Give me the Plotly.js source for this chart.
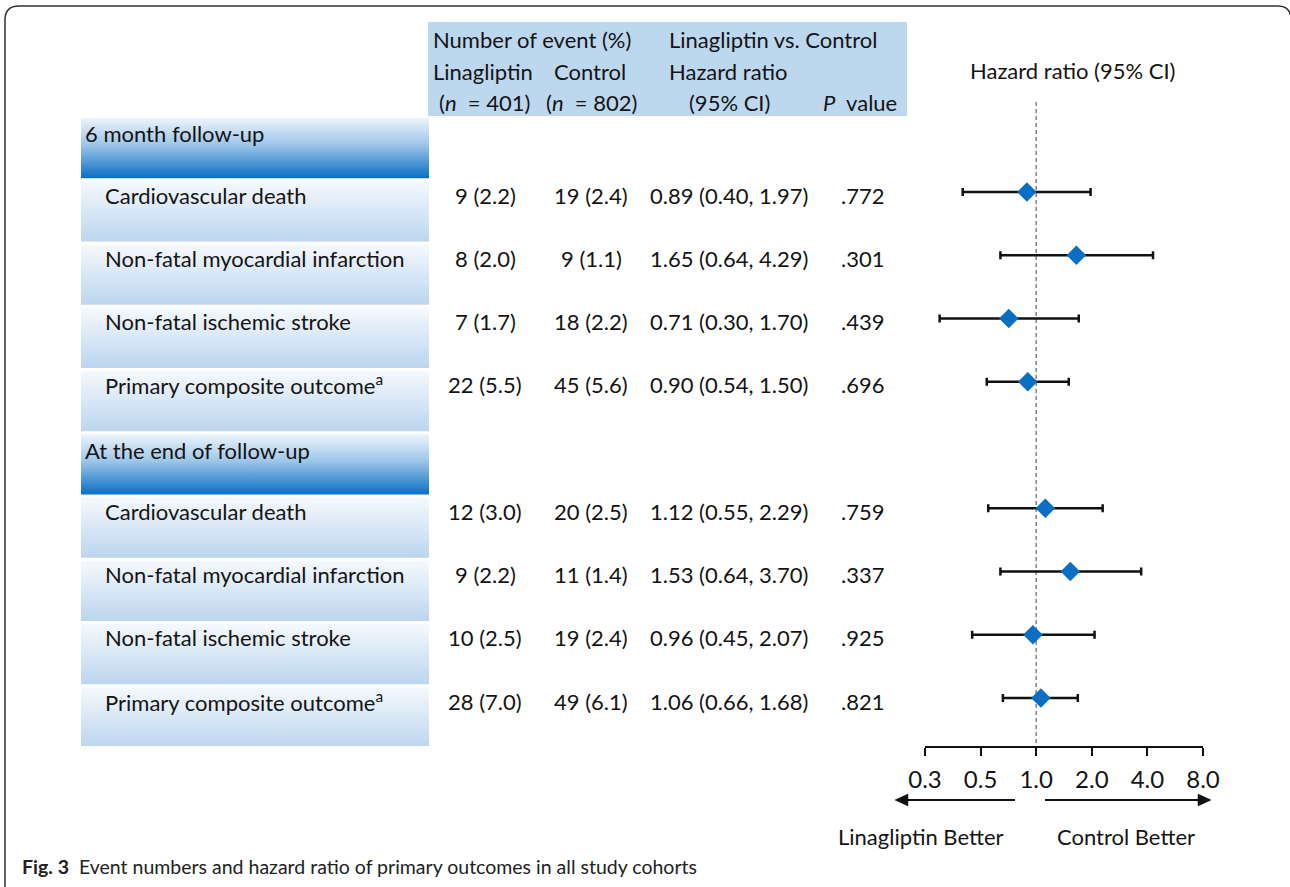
<!DOCTYPE html>
<html>
<head>
<meta charset="utf-8">
<script src="https://cdn.plot.ly/plotly-3.0.1.min.js"></script>
<style>html,body{margin:0;padding:0;background:#fff;}</style>
</head>
<body>
<div id="chart" style="width:1290px;height:887px;"></div>
<script>
// ---------------- data ----------------
const rowLabels = [
  "6 month follow-up",
  "Cardiovascular death",
  "Non-fatal myocardial infarction",
  "Non-fatal ischemic stroke",
  "Primary composite outcome<sup>a</sup>",
  "At the end of follow-up",
  "Cardiovascular death",
  "Non-fatal myocardial infarction",
  "Non-fatal ischemic stroke",
  "Primary composite outcome<sup>a</sup>"
];
const rowIsHeader = [true, false, false, false, false, true, false, false, false, false];
const linaEvents = ["", "9 (2.2)", "8 (2.0)", "7 (1.7)", "22 (5.5)", "", "12 (3.0)", "9 (2.2)", "10 (2.5)", "28 (7.0)"];
const ctrlEvents = ["", "19 (2.4)", "9 (1.1)", "18 (2.2)", "45 (5.6)", "", "20 (2.5)", "11 (1.4)", "19 (2.4)", "49 (6.1)"];
const hazardRatio = [null, 0.89, 1.65, 0.71, 0.90, null, 1.12, 1.53, 0.96, 1.06];
const ciLow  = [null, 0.40, 0.64, 0.30, 0.54, null, 0.55, 0.64, 0.45, 0.66];
const ciHigh = [null, 1.97, 4.29, 1.70, 1.50, null, 2.29, 3.70, 2.07, 1.68];
const pValues = ["", ".772", ".301", ".439", ".696", "", ".759", ".337", ".925", ".821"];
const hrTickVals = [0.25, 0.5, 1, 2, 4, 8];
const hrTickText = ["0.3", "0.5", "1.0", "2.0", "4.0", "8.0"];
const referenceHR = 1;

// ---------------- layout helpers ----------------
const W = 1290, H = 887;
const px = x => x / W;
const py = y => 1 - y / H;
const FONT = "Lato, 'Open Sans', sans-serif";
const TXT = "#141414";
const FS = 22;
const rowTop = 128.8, rowPitch = 63.25, plotBottom = 746;
const yRange = [(plotBottom - rowTop) / rowPitch, -rowTop / rowPitch];

const rowIdx = rowLabels.map((_, i) => i);
const traces = [];

// table cell backgrounds (gradient fills)
const rowScale = [[0, "#f5f9fd"], [1, "#bcd5ee"]];
const hdrScale = [[0, "#edf4fb"], [0.45, "#9cc5e9"], [1, "#0a6fc2"]];
rowIdx.forEach(i => {
  const t = i - 0.17, b = i + 0.78;
  traces.push({
    type: "scatter", mode: "lines", xaxis: "x2", yaxis: "y",
    x: [81, 429, 429, 81, 81], y: [t, t, b, b, t],
    fill: "toself", line: {width: 0, color: "rgba(0,0,0,0)"},
    fillgradient: {type: "vertical", colorscale: rowIsHeader[i] ? hdrScale : rowScale, start: t, stop: b},
    hoverinfo: "skip", showlegend: false
  });
});

// reference line at HR = 1
traces.push({
  type: "scatter", mode: "lines", xaxis: "x", yaxis: "y",
  x: [referenceHR, referenceHR], y: [(102 - rowTop) / rowPitch, yRange[0]],
  line: {color: "#8a8a8a", width: 1.6, dash: "4px,3px"},
  hoverinfo: "skip", showlegend: false, cliponaxis: false
});

// forest points
const fx = [], fy = [], ePlus = [], eMinus = [];
rowIdx.forEach(i => {
  if (hazardRatio[i] !== null) {
    fx.push(hazardRatio[i]); fy.push(i);
    ePlus.push(ciHigh[i] - hazardRatio[i]);
    eMinus.push(hazardRatio[i] - ciLow[i]);
  }
});
traces.push({
  type: "scatter", mode: "markers", xaxis: "x", yaxis: "y",
  x: fx, y: fy,
  marker: {symbol: "diamond", size: 15, color: "#0a6fc2", line: {width: 0}},
  error_x: {type: "data", symmetric: false, array: ePlus, arrayminus: eMinus,
            color: "#111", thickness: 2.5, width: 4},
  hoverinfo: "skip", showlegend: false, cliponaxis: false
});

// ---------------- annotations ----------------
const ann = [];
const fnt = (s, c) => ({family: FONT, size: s || FS, color: c || TXT});
function pTxt(text, x, y, anchor, size) {
  ann.push({text, xref: "paper", yref: "paper", x: px(x), y: py(y),
            xanchor: anchor || "left", yanchor: "middle", showarrow: false, font: fnt(size)});
}
// header block
pTxt("Number of event (%)", 431, 40);
pTxt("Linagliptin vs. Control", 667, 40);
pTxt("Linagliptin", 431, 72);
pTxt("Control", 552, 72);
pTxt("Hazard ratio", 667, 72);
pTxt("(<i>n</i>  = 401)", 437, 102);
pTxt("(<i>n</i>  = 802)", 544, 102);
pTxt("(95% CI)", 687, 102);
pTxt("<i>P</i>  value", 821, 102);
pTxt("Hazard ratio (95% CI)", 1072, 70, "center");
pTxt("Linagliptin Better", 921, 836, "center");
pTxt("Control Better", 1126, 836, "center");

// table rows
rowIdx.forEach(i => {
  const base = {xref: "paper", yref: "y", y: i, yanchor: "middle", showarrow: false, font: fnt()};
  if (rowIsHeader[i]) {
    ann.push(Object.assign({}, base, {text: rowLabels[i], x: px(83), xanchor: "left", yshift: -5}));
  } else {
    ann.push(Object.assign({}, base, {text: rowLabels[i], x: px(103), xanchor: "left", yshift: -3}));
    ann.push(Object.assign({}, base, {text: linaEvents[i], x: px(485), xanchor: "center", yshift: -3}));
    ann.push(Object.assign({}, base, {text: ctrlEvents[i], x: px(591), xanchor: "center", yshift: -3}));
    const hrText = hazardRatio[i].toFixed(2) + " (" + ciLow[i].toFixed(2) + ", " + ciHigh[i].toFixed(2) + ")";
    ann.push(Object.assign({}, base, {text: hrText, x: px(729), xanchor: "center", yshift: -3}));
    ann.push(Object.assign({}, base, {text: pValues[i], x: px(862), xanchor: "center", yshift: -3}));
  }
});

// caption
ann.push({text: "<b>Fig. 3</b>  Event numbers and hazard ratio of primary outcomes in all study cohorts",
          xref: "paper", yref: "paper", x: px(20), y: py(866), xanchor: "left", yanchor: "middle",
          showarrow: false, font: {family: FONT, size: 19.5, color: "#222"}});

// ---------------- shapes ----------------
const arrowY = 800;
const shapes = [
  {type: "rect", xref: "paper", yref: "paper", x0: px(428), x1: px(907), y0: py(22), y1: py(116),
   fillcolor: "#bdd7ee", line: {width: 0}, layer: "below"},
  {type: "path", xref: "paper", yref: "paper",
   path: `M ${px(5)},${py(895)} L ${px(5)},${py(20)} Q ${px(5)},${py(6)} ${px(19)},${py(6)} L ${px(1278)},${py(6)} Q ${px(1290)},${py(6)} ${px(1291)},${py(18)} L ${px(1291)},${py(895)}`,
   line: {color: "#333", width: 1.5}, layer: "above"},
  // left arrow
  {type: "line", xref: "paper", yref: "paper", x0: px(1015), x1: px(905), y0: py(arrowY), y1: py(arrowY),
   line: {color: "#111", width: 2}},
  {type: "path", xref: "paper", yref: "paper",
   path: `M ${px(895)},${py(arrowY)} L ${px(908)},${py(arrowY - 6)} L ${px(908)},${py(arrowY + 6)} Z`,
   fillcolor: "#111", line: {color: "#111", width: 0.5}},
  // right arrow
  {type: "line", xref: "paper", yref: "paper", x0: px(1045), x1: px(1200), y0: py(arrowY), y1: py(arrowY),
   line: {color: "#111", width: 2}},
  {type: "path", xref: "paper", yref: "paper",
   path: `M ${px(1211)},${py(arrowY)} L ${px(1198)},${py(arrowY - 6)} L ${px(1198)},${py(arrowY + 6)} Z`,
   fillcolor: "#111", line: {color: "#111", width: 0.5}}
];

const layout = {
  width: W, height: H,
  margin: {l: 0, r: 0, t: 0, b: 0},
  paper_bgcolor: "#fff", plot_bgcolor: "rgba(0,0,0,0)",
  showlegend: false,
  xaxis: {
    type: "log", domain: [px(925), px(1203)], range: [Math.log10(0.25), Math.log10(8)],
    anchor: "y", showgrid: false, zeroline: false,
    showline: true, linecolor: "#111", linewidth: 2,
    ticks: "outside", ticklen: 8, tickwidth: 2, tickcolor: "#111",
    tickmode: "array", tickvals: hrTickVals, ticktext: hrTickText,
    tickfont: fnt(24), ticklabelstandoff: 3, fixedrange: true
  },
  xaxis2: {domain: [0, 1], range: [0, W], anchor: "y", visible: false, fixedrange: true},
  yaxis: {domain: [1 - plotBottom / H, 1], range: yRange, visible: false, fixedrange: true,
          showgrid: false, zeroline: false},
  annotations: ann,
  shapes: shapes
};

Plotly.newPlot("chart", traces, layout, {staticPlot: true, displayModeBar: false});
</script>
</body>
</html>
